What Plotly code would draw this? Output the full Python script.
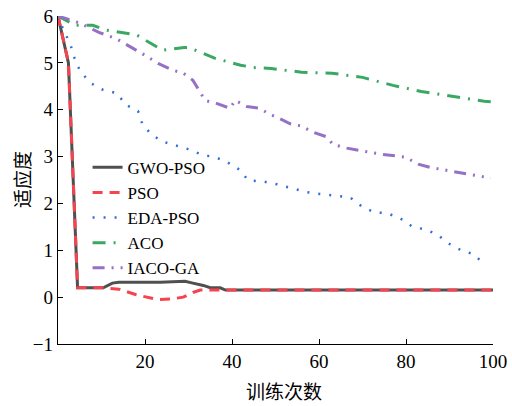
import plotly.graph_objects as go

# ---- data ----
gwo_x = [0, 2.4, 4.5, 10.4, 12.5, 14, 23.5, 28, 29.2, 31, 33.4, 35, 37.3, 38.5, 100]
gwo_y = [6, 5.0, 0.2, 0.2, 0.3, 0.32, 0.32, 0.34, 0.34, 0.3, 0.25, 0.2, 0.2, 0.15, 0.15]

pso_x = [0, 2.4, 4.5, 10.4, 14, 18, 22.8, 26, 28.8, 31, 32.7, 100]
pso_y = [6, 5.0, 0.2, 0.2, 0.17, 0.05, -0.05, -0.04, 0.0, 0.1, 0.15, 0.15]

eda_x = [0, 1.2, 2.8, 3.8, 5, 7.3, 10.2, 13.6, 15.5, 18.4, 19.4, 21.2, 23.7, 26.7, 29.9,
         33.4, 36.1, 38.9, 41.9, 43.7, 47.1, 50.3, 53.8, 57.2, 60.2, 63.6, 67.1, 69.8,
         72.7, 75.7, 78.7, 81.4, 84.9, 87.4, 89.7, 92.7, 95.4, 97.5]
eda_y = [6, 5.71, 5.41, 5.1, 4.84, 4.58, 4.43, 4.35, 4.11, 3.97, 3.69, 3.5, 3.33, 3.24, 3.16,
         3.03, 2.99, 2.88, 2.71, 2.49, 2.47, 2.41, 2.32, 2.24, 2.2, 2.17, 2.13, 1.94,
         1.81, 1.79, 1.68, 1.51, 1.43, 1.32, 1.15, 1.0, 0.92, 0.75]

aco_x = [0, 4, 8, 11, 18, 21, 24, 29, 30, 36, 42, 45, 49, 56, 63, 70, 77, 83.5, 90, 98, 100]
aco_y = [6, 5.8, 5.8, 5.7, 5.6, 5.44, 5.27, 5.33, 5.33, 5.1, 4.95, 4.9, 4.88, 4.8, 4.78,
         4.69, 4.52, 4.39, 4.3, 4.18, 4.17]

iaco_x = [0, 5, 9.4, 13.3, 19.3, 23, 26.5, 28.8, 31, 32.7, 33.8, 36.6, 39.6, 40.7, 43.4,
          46.4, 48.3, 50.7, 53.4, 56, 58.6, 61.8, 63.2, 66.4, 69.4, 74.3, 79.8, 82.8,
          85.5, 91.3, 96.6, 99.5]
iaco_y = [6, 5.85, 5.65, 5.52, 5.2, 4.99, 4.84, 4.78, 4.63, 4.37, 4.2, 4.13, 4.03, 4.2, 4.07,
          4.03, 3.92, 3.82, 3.7, 3.65, 3.52, 3.42, 3.26, 3.18, 3.13, 3.05, 2.99, 2.84,
          2.77, 2.67, 2.58, 2.54]

names = ["GWO-PSO", "PSO", "EDA-PSO", "ACO", "IACO-GA"]
x_ticks = [20, 40, 60, 80, 100]
y_ticks = [-1, 0, 1, 2, 3, 4, 5, 6]

fig = go.Figure()
fig.add_trace(go.Scatter(x=gwo_x, y=gwo_y, mode="lines", name=names[0],
                         line=dict(color="#505050", width=3)))
fig.add_trace(go.Scatter(x=pso_x, y=pso_y, mode="lines", name=names[1],
                         line=dict(color="#f5434f", width=3, dash="10px,7px")))
fig.add_trace(go.Scatter(x=eda_x, y=eda_y, mode="lines", name=names[2],
                         line=dict(color="#2f6fd6", width=2.5, dash="2px,9px")))
fig.add_trace(go.Scatter(x=aco_x, y=aco_y, mode="lines", name=names[3],
                         line=dict(color="#3aa862", width=3, dash="13px,8px,2px,8px")))
fig.add_trace(go.Scatter(x=iaco_x, y=iaco_y, mode="lines", name=names[4],
                         line=dict(color="#9670c6", width=3, dash="12px,7px,2px,7px,2px,7px")))

serif = "Liberation Serif, Times New Roman, serif"
cjk = "Noto Sans CJK SC"

fig.update_layout(
    width=512, height=406,
    margin=dict(l=58, r=19, t=16, b=62, autoexpand=False),
    paper_bgcolor="white", plot_bgcolor="white",
    showlegend=True,
    legend=dict(x=0.068, y=0.592, xanchor="left", yanchor="top",
                font=dict(family=serif, size=17, color="black"),
                bgcolor="rgba(0,0,0,0)", borderwidth=0, tracegroupgap=0),
    xaxis=dict(range=[0, 100], tickvals=x_ticks, ticks="inside", ticklen=5,
               tickcolor="black", showline=True, linecolor="black", linewidth=1.3,
               showgrid=False, zeroline=False, mirror=False, automargin=False,
               tickfont=dict(family=serif, size=19, color="black")),
    yaxis=dict(range=[-1, 6], tickvals=y_ticks, ticks="inside", ticklen=5,
               tickcolor="black", showline=True, linecolor="black", linewidth=1.3,
               showgrid=False, zeroline=False, mirror=False, automargin=False,
               tickfont=dict(family=serif, size=19, color="black")),
    annotations=[
        dict(text="训练次数", xref="paper", yref="paper", x=0.52, y=-0.143,
             xanchor="center", yanchor="middle", showarrow=False,
             font=dict(family=cjk, size=19, color="black")),
        dict(text="适应度", xref="paper", yref="paper", x=-0.085, y=0.5,
             xanchor="center", yanchor="middle", showarrow=False, textangle=-90,
             font=dict(family=cjk, size=19, color="black")),
    ],
)

fig.write_html("out.html")
